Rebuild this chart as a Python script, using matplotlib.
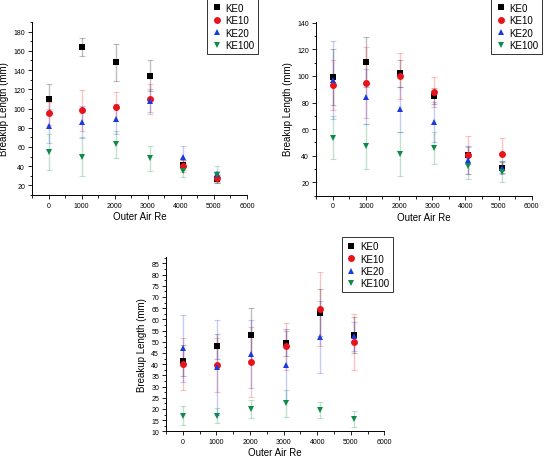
import matplotlib
matplotlib.use("Agg")
import matplotlib.pyplot as plt
from matplotlib.ticker import MultipleLocator

plt.rcParams['font.family'] = ['Liberation Sans', 'DejaVu Sans']

# outer air Reynolds numbers (points sit slightly right of the ticks)
re = [0, 1020, 2040, 3060, 4080, 5100]
labels = ["KE0", "KE10", "KE20", "KE100"]

# panel a
a_ke0 = [110, 164, 148, 134, 41, 27]
a_ke0_err = [16, 9, 19.5, 16, 5, 4]
a_ke10 = [95, 98, 102, 110, 40, 28]
a_ke10_err = [12, 21, 15, 16, 6, 4]
a_ke20 = [82, 86, 89, 108, 50, 32]
a_ke20_err = [18, 16.5, 15.5, 12, 11, 3]
a_ke100 = [55, 50, 63, 48, 35, 31]
a_ke100_err = [18.5, 20, 14, 13.5, 6.5, 9]

# panel b
b_ke0 = [99, 110.5, 102, 85, 40.5, 31]
b_ke0_err = [21, 18.5, 10, 6, 7, 4]
b_ke10 = [93, 95, 100, 88, 40.5, 41]
b_ke10_err = [19, 26.5, 17.5, 11.5, 14, 12.3]
b_ke20 = [97, 84.5, 75, 65.5, 36.5, 31]
b_ke20_err = [29.5, 20.5, 17, 15, 10, 5]
b_ke100 = [53.5, 47, 41.5, 46, 32.5, 28]
b_ke100_err = [16, 17, 16.5, 12, 10, 8]

# panel c
c_ke0 = [41.5, 48, 53, 49.5, 63, 53]
c_ke0_err = [7, 5.5, 12, 6, 10.5, 8]
c_ke10 = [40, 39.5, 41, 48, 64.5, 50]
c_ke10_err = [11.5, 12, 15.5, 10.5, 16.5, 12.5]
c_ke20 = [47, 38.5, 44.5, 39.5, 52, 52.5]
c_ke20_err = [15, 21, 15, 15.5, 16, 6.5]
c_ke100 = [17, 17, 20, 22.5, 19.5, 15.5]
c_ke100_err = [4.3, 3.3, 3.9, 6, 3.6, 3.5]

colors = ['black', '#e8141c', '#1a3ae0', '#0e8a4a']
markers = ['s', 'o', '^', 'v']


def draw_panel(fig, rect, series, errs, ylim, ymajor, yminor, legend_at):
    ax = fig.add_axes(rect)
    for vals, err, c in zip(series, errs, colors):
        ax.errorbar(re, vals, yerr=err, fmt='none', ecolor=c, alpha=0.25,
                    elinewidth=1.0, capsize=2, capthick=0.8)
    for vals, c, m, lab in zip(series, colors, markers, labels):
        ax.plot(re, vals, linestyle='none', marker=m, color=c,
                markersize=5, markeredgewidth=0, label=lab)
    ax.set_xlim(-500, 6000)
    ax.set_ylim(*ylim)
    ax.xaxis.set_major_locator(MultipleLocator(1000))
    ax.xaxis.set_minor_locator(MultipleLocator(500))
    ax.yaxis.set_major_locator(MultipleLocator(ymajor))
    ax.yaxis.set_minor_locator(MultipleLocator(yminor))
    ax.spines['top'].set_visible(False)
    ax.spines['right'].set_visible(False)
    for s in ['left', 'bottom']:
        ax.spines[s].set_linewidth(0.7)
    ax.tick_params(which='both', direction='out', labelsize=5, width=0.6)
    ax.tick_params(which='major', length=3, pad=2)
    ax.tick_params(which='minor', length=1.8)
    ax.set_xlabel("Outer Air Re", fontsize=7, labelpad=1.5)
    ax.set_ylabel("Breakup Length (mm)", fontsize=7, labelpad=3)
    leg = ax.legend(loc='upper left', bbox_to_anchor=legend_at,
                    bbox_transform=fig.transFigure, fontsize=7,
                    frameon=True, fancybox=False, edgecolor='black',
                    handletextpad=0.3, labelspacing=0.25, borderpad=0.4,
                    handlelength=1.2, borderaxespad=0)
    leg.get_frame().set_linewidth(0.7)
    return ax


fig = plt.figure(figsize=(5.45, 4.6), dpi=100)

draw_panel(fig, [32 / 545, 1 - 196 / 460, 215 / 545, 173 / 460],
           [a_ke0, a_ke10, a_ke20, a_ke100],
           [a_ke0_err, a_ke10_err, a_ke20_err, a_ke100_err],
           (10, 190), 20, 10, (207 / 545, 1.0))

draw_panel(fig, [316 / 545, 1 - 196.5 / 460, 215.7 / 545, 174 / 460],
           [b_ke0, b_ke10, b_ke20, b_ke100],
           [b_ke0_err, b_ke10_err, b_ke20_err, b_ke100_err],
           (10, 141), 20, 10, (491 / 545, 1.0))

draw_panel(fig, [166 / 545, 1 - 432.3 / 460, 218.3 / 545, 174 / 460],
           [c_ke0, c_ke10, c_ke20, c_ke100],
           [c_ke0_err, c_ke10_err, c_ke20_err, c_ke100_err],
           (10, 87.7), 5, 2.5, (341.7 / 545, 1 - 238.3 / 460))

fig.savefig("out.png", dpi=100)
